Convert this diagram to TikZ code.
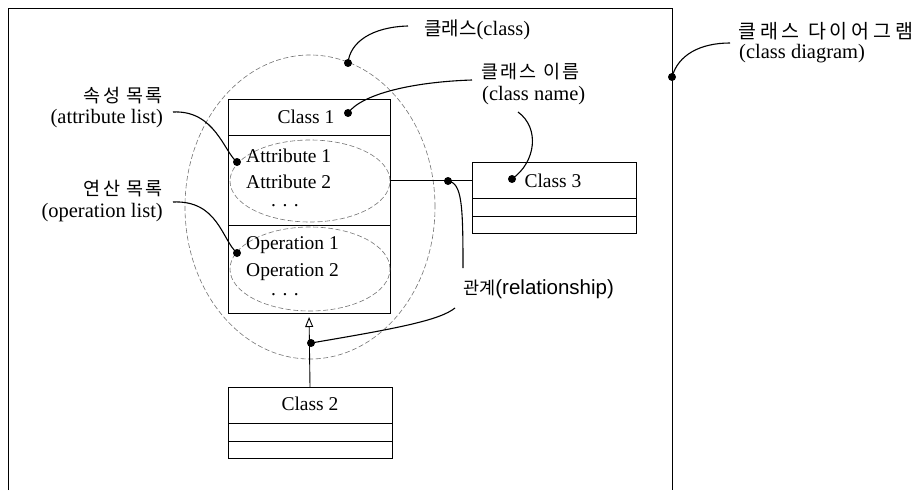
\documentclass[tikz,border=0pt]{standalone}
\usepackage{fontspec}
\setmainfont{Liberation Serif}
\newfontfamily\kr[LetterSpace=12]{Noto Sans CJK KR}
\newfontfamily\krn{Noto Sans CJK KR}
\newfontfamily\krw[LetterSpace=20]{Noto Sans CJK KR}
\newfontfamily\arl{Liberation Sans}
\usetikzlibrary{arrows.meta}
\begin{document}
\begin{tikzpicture}[x=1pt,y=-1pt,
  cbox/.style={draw,line width=0.9pt,inner sep=0pt,outer sep=0pt,minimum width=#1},
  dotn/.style={circle,fill=black,inner sep=0pt,minimum size=8pt},
  leader/.style={line width=1.1pt},
  dell/.style={draw=black!55,line width=0.6pt,dash pattern=on 5pt off 2.5pt},
  lbl/.style={inner sep=0pt,font=\fontsize{20.5}{24}\selectfont},
  ctext/.style={inner sep=0pt,font=\fontsize{19.5}{23}\selectfont}]
\useasboundingbox (0,0) rectangle (920,492);
% frame
\coordinate (fbl) at (8,490);
\coordinate (ftl) at (8,8);
\coordinate (ftr) at (672,8);
\coordinate (fbr) at (672,490);
\draw[line width=0.9pt] (fbl) -- (ftl) -- (ftr) -- (fbr);
% big dashed ellipse (class)
\draw[dell] (310,207) ellipse [x radius=125pt, y radius=152pt];
% Class 1
\node[cbox=162pt,minimum height=36pt] (c1n) at (309,117) {};
\node[cbox=162pt,minimum height=90pt] (c1a) at (309,180) {};
\node[cbox=162pt,minimum height=88pt] (c1o) at (309,269) {};
\node[ctext] (c1t) at (306,117) {Class 1};
\draw[dell] (310,181) ellipse [x radius=80pt, y radius=41pt];
\draw[dell] (310,269) ellipse [x radius=80pt, y radius=42pt];
\node[ctext,anchor=west] (a1) at (246,156) {Attribute 1};
\node[ctext,anchor=west] (a2) at (246,182) {Attribute 2};
\node[ctext] (a3) at (285,206) {. . .};
\node[ctext,anchor=west] (o1) at (246,245) {Operation 1};
\node[ctext,anchor=west] (o2) at (246,272) {Operation 2};
\node[ctext] (o3) at (285,295) {. . .};
% Class 3
\node[cbox=164pt,minimum height=36pt] (c3n) at (554,180) {};
\node[cbox=164pt,minimum height=18pt] (c3a) at (554,207) {};
\node[cbox=164pt,minimum height=17pt] (c3o) at (554,224.5) {};
\node[ctext] (c3t) at (553,181) {Class 3};
% Class 2
\node[cbox=164pt,minimum height=36pt] (c2n) at (310,405) {};
\node[cbox=164pt,minimum height=18pt] (c2a) at (310,432) {};
\node[cbox=164pt,minimum height=17pt] (c2o) at (310,449.5) {};
\node[ctext] (c2t) at (310,404) {Class 2};
% association
\draw[line width=0.9pt] (c1a.east |- 0,180) coordinate (asA) -- (c3n.west |- 0,180) coordinate (asB);
% generalization
\draw[line width=0.9pt,-{Triangle[open,length=10pt,width=8pt]},shorten >=4pt] (c2n.north) -- (c1o.south);
% dots
\node[dotn] (dcl) at (348,63) {};
\node[dotn] (dcn) at (348,113) {};
\node[dotn] (dc3) at (512,179) {};
\node[dotn] (das) at (448,181) {};
\node[dotn] (dgen) at (311,343) {};
\node[dotn] (dfr) at (672,77) {};
\node[dotn] (dat) at (237,162) {};
\node[dotn] (dop) at (237,253) {};
% labels
\node[lbl,anchor=west] (lcl) at (424,30) {{\krn\fontsize{19}{22}\selectfont 클래스}(class)};
\node[lbl,anchor=west] (lcn1) at (481,72) {\kr\fontsize{18.5}{22}\selectfont 클래스 이름};
\node[lbl,anchor=west] (lcn2) at (482,96) {(class name)};
\node[lbl,anchor=west] (lcd1) at (738,31) {\krw\fontsize{19.5}{22}\selectfont 클래스 다이어그램};
\node[lbl,anchor=west] (lcd2) at (739,54) {(class diagram)};
\node[lbl,anchor=east] (lat1) at (163,96) {\kr\fontsize{18.5}{22}\selectfont 속성 목록};
\node[lbl,anchor=east] (lat2) at (163,119) {(attribute list)};
\node[lbl,anchor=east] (lop1) at (163,189) {\kr\fontsize{18.5}{22}\selectfont 연산 목록};
\node[lbl,anchor=east] (lop2) at (163,213) {(operation list)};
\node[lbl,anchor=west] (lrel) at (463,289) {{\krn\fontsize{17.5}{22}\selectfont 관계}{\arl(relationship)}};
% leader start coordinates
\coordinate (scl) at (408,26);
\coordinate (scn) at (472,80);
\coordinate (sc3) at (518,112);
\coordinate (srel1) at (463,268);
\coordinate (srel2) at (455,308);
\coordinate (scd) at (730,43);
\coordinate (sat) at (173,112);
\coordinate (sop) at (173,202);
% leaders
\draw[leader] (scl) .. controls (372,27) and (350,42) .. (dcl.center);
\draw[leader] (scn) .. controls (412,82) and (362,94) .. (dcn.center);
\draw[leader] (sc3) .. controls (540,128) and (536,162) .. (dc3.center);
\draw[leader] (das.center) .. controls (462,183) and (463,205) .. (srel1);
\draw[leader] (srel2) .. controls (440,320) and (400,328) .. (dgen.center);
\draw[leader] (scd) .. controls (700,43) and (678,55) .. (dfr.center);
\draw[leader] (sat) .. controls (215,110) and (224,152) .. (dat.center);
\draw[leader] (sop) .. controls (218,200) and (222,240) .. (dop.center);
\end{tikzpicture}
\end{document}
